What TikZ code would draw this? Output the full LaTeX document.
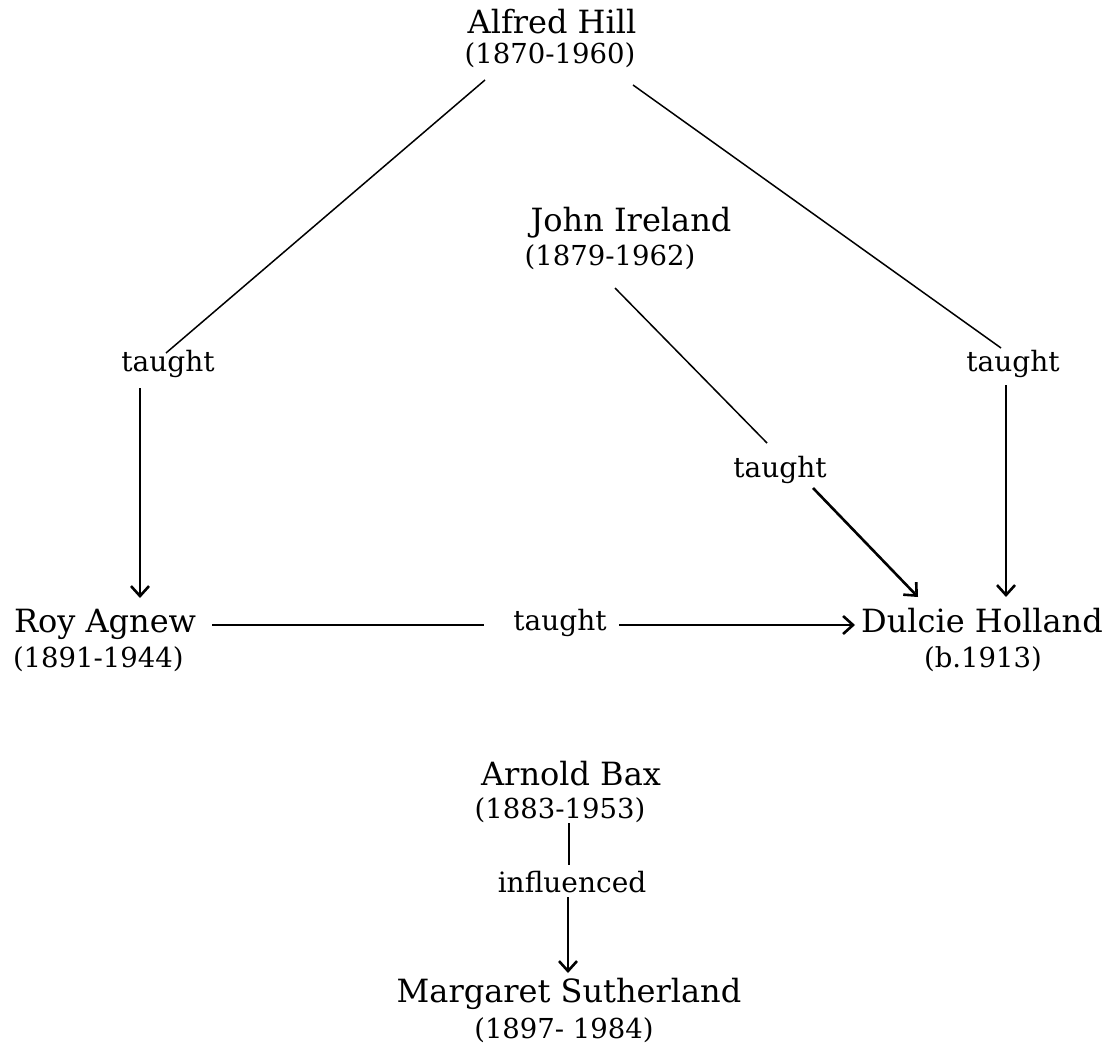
\documentclass[tikz,border=0pt]{standalone}
\usepackage{fontspec}
\setmainfont{DejaVu Serif}
\usetikzlibrary{arrows.meta,calc}
\begin{document}
\begin{tikzpicture}[x=1pt,y=-1pt,
  every node/.style={inner sep=0pt,outer sep=0pt},
  pname/.style={font=\fontsize{32}{36}\selectfont,anchor=base},
  yrs/.style={font=\fontsize{27.5}{32}\selectfont,anchor=base},
  lbl/.style={font=\fontsize{28}{32}\selectfont,anchor=base},
  thinline/.style={line width=1.5pt},
  thickline/.style={line width=2.6pt},
  arr/.style={line width=2.6pt,-{Straight Barb[length=10pt,width=18pt]}}
]
\useasboundingbox (0,0) rectangle (1107,1043);
% people
\node[pname] (hill) at (552,34) {Alfred Hill};
\node[yrs] (hilly) at (550,64) {(1870-1960)};
\node[pname] (ireland) at (631,231) {John Ireland};
\node[yrs] (irelandy) at (610,265) {(1879-1962)};
\node[pname,anchor=base west] (roy) at (14,632) {Roy Agnew};
\node[yrs,anchor=base west] (royy) at (13,667) {(1891-1944)};
\node[pname] (dulcie) at (982,632) {Dulcie Holland};
\node[yrs] (dulciey) at (983,667) {(b.1913)};
\node[pname] (bax) at (571,785) {Arnold Bax};
\node[yrs] (baxy) at (560,818) {(1883-1953)};
\node[pname] (marg) at (569,1002) {Margaret Sutherland};
\node[yrs] (margy) at (564,1038) {(1897- 1984)};
% labels
\node[lbl] (t1) at (168,371) {taught};
\node[lbl] (t2) at (1013,371) {taught};
\node[lbl] (t3) at (780,477) {taught};
\node[lbl] (t4) at (560,630) {taught};
\node[lbl] (infl) at (572,892) {influenced};
% connectors
\draw[thinline] ($(hilly.base)+(-65,16)$) -- ($(t1.base)+(-2,-18)$);
\draw[arr] ($(t1.base)+(-28,17)$) -- ($(roy.base west)+(126,-34)$);
\draw[thinline] ($(hilly.base)+(83,21)$) -- ($(t2.base)+(-12,-23)$);
\draw[arr] ($(t2.base)+(-7,14)$) -- ($(dulcie.base)+(24,-35)$);
\draw[thinline] ($(irelandy.base)+(5,23)$) -- ($(t3.base)+(-13,-34)$);
\draw[arr] ($(t3.base)+(33,11)$) -- ($(dulcie.base)+(-64,-35)$);
\draw[thickline] ($(roy.base west)+(198,-7)$) -- ($(t4.base)+(-76,-5)$);
\draw[arr] ($(t4.base)+(59,-5)$) -- ($(dulcie.base)+(-127,-7)$);
\draw[thickline] ($(baxy.base)+(9,5)$) -- ($(infl.base)+(-3,-27)$);
\draw[arr] ($(infl.base)+(-4,5)$) -- ($(marg.base)+(-1,-29)$);
\end{tikzpicture}
\end{document}
